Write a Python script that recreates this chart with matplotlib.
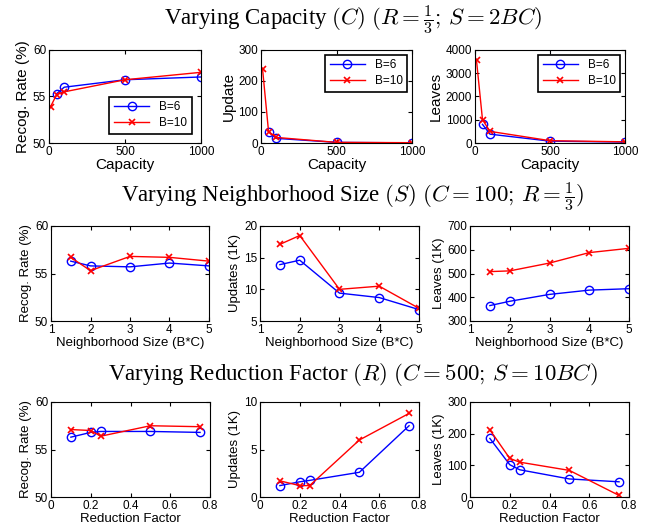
import matplotlib
matplotlib.use("Agg")
import matplotlib.pyplot as plt

plt.rcParams['font.family'] = ['Liberation Sans', 'DejaVu Sans']
plt.rcParams['mathtext.fontset'] = 'cm'

# Row 1: varying capacity
cap_x_b6 = [50, 100, 500, 1000]
cap_x_b10 = [10, 50, 100, 500, 1000]
cap_rec_b6 = [55.3, 56.0, 56.8, 57.1]
cap_rec_b10 = [53.9, 55.2, 55.5, 56.8, 57.6]
cap_upd_b6 = [37, 15, 2, 0.5]
cap_upd_b10 = [240, 37, 18, 2, 1]
cap_leav_b6 = [800, 380, 80, 40]
cap_leav_b10 = [3550, 1000, 500, 100, 50]

# Row 2: varying neighborhood size
nb_x = [1.5, 2, 3, 4, 5]
nb_rec_b6 = [56.3, 55.8, 55.7, 56.1, 55.8]
nb_rec_b10 = [56.7, 55.3, 56.8, 56.7, 56.3]
nb_upd_b6 = [13.9, 14.6, 9.4, 8.7, 6.8]
nb_upd_b10 = [17.1, 18.5, 10.0, 10.5, 7.0]
nb_leav_b6 = [365, 383, 412, 430, 436]
nb_leav_b10 = [508, 511, 544, 588, 606]

# Row 3: varying reduction factor
rf_x = [0.1, 0.2, 0.25, 0.5, 0.75]
rf_rec_b6 = [56.3, 56.8, 56.9, 56.9, 56.8]
rf_rec_b10 = [57.1, 57.0, 56.4, 57.5, 57.4]
rf_upd_b6 = [1.2, 1.6, 1.75, 2.6, 7.5]
rf_upd_b10 = [1.7, 1.2, 1.2, 6.0, 8.8]
rf_leav_b6 = [185, 102, 86, 57, 48]
rf_leav_b10 = [212, 122, 110, 84, 5]

W, H = 646, 522
fig = plt.figure(figsize=(W / 100, H / 100), dpi=100)

def add_ax(l, t, r, b):
    return fig.add_axes([l / W, 1 - b / H, (r - l) / W, (b - t) / H])

def style(ax):
    ax.tick_params(direction='in', top=True, right=True, labelsize=8.5, length=3, pad=2)
    for s in ax.spines.values():
        s.set_linewidth(0.8)

def plot_pair(ax, xb6, yb6, xb10, yb10):
    ax.plot(xb6, yb6, '-o', color='blue', mfc='none', ms=6, lw=1, label='B=6')
    ax.plot(xb10, yb10, '-x', color='red', ms=4, mew=1.2, lw=1, label='B=10')

def legend(ax, loc, pad):
    leg = ax.legend(loc=loc, fontsize=8.5, fancybox=False, edgecolor='black', framealpha=1,
                    handlelength=3, borderaxespad=pad, borderpad=0.4, labelspacing=0.3)
    leg.get_frame().set_linewidth(1.2)

# Row 1
ax = add_ax(49, 50, 201, 143)
plot_pair(ax, cap_x_b6, cap_rec_b6, cap_x_b10, cap_rec_b10)
ax.set_xlim(0, 1000); ax.set_ylim(50, 60)
ax.set_xticks([0, 500, 1000]); ax.set_yticks([50, 55, 60])
ax.set_xlabel('Capacity', fontsize=11, labelpad=0)
ax.set_ylabel('Recog. Rate (%)', fontsize=11, labelpad=2)
style(ax)
legend(ax, 'lower right', 0.8)

ax = add_ax(261, 50, 412, 143)
plot_pair(ax, cap_x_b6, cap_upd_b6, cap_x_b10, cap_upd_b10)
ax.set_xlim(0, 1000); ax.set_ylim(0, 300)
ax.set_xticks([0, 500, 1000]); ax.set_yticks([0, 100, 200, 300])
ax.set_xlabel('Capacity', fontsize=11, labelpad=0)
ax.set_ylabel('Update', fontsize=11, labelpad=2)
style(ax)
legend(ax, 'upper right', 0.4)

ax = add_ax(475, 50, 625, 143)
plot_pair(ax, cap_x_b6, cap_leav_b6, cap_x_b10, cap_leav_b10)
ax.set_xlim(0, 1000); ax.set_ylim(0, 4000)
ax.set_xticks([0, 500, 1000]); ax.set_yticks([0, 1000, 2000, 3000, 4000])
ax.set_xlabel('Capacity', fontsize=11, labelpad=0)
ax.set_ylabel('Leaves', fontsize=11, labelpad=2)
style(ax)
legend(ax, 'upper right', 0.4)

# Row 2
ax = add_ax(51, 226, 209, 321)
plot_pair(ax, nb_x, nb_rec_b6, nb_x, nb_rec_b10)
ax.set_xlim(1, 5); ax.set_ylim(50, 60)
ax.set_xticks([1, 2, 3, 4, 5]); ax.set_yticks([50, 55, 60])
ax.set_xlabel('Neighborhood Size (B*C)', fontsize=9.5, labelpad=1)
ax.set_ylabel('Recog. Rate (%)', fontsize=9.5, labelpad=2)
style(ax)

ax = add_ax(260, 226, 419, 321)
plot_pair(ax, nb_x, nb_upd_b6, nb_x, nb_upd_b10)
ax.set_xlim(1, 5); ax.set_ylim(5, 20)
ax.set_xticks([1, 2, 3, 4, 5]); ax.set_yticks([5, 10, 15, 20])
ax.set_xlabel('Neighborhood Size (B*C)', fontsize=9.5, labelpad=1)
ax.set_ylabel('Updates (1K)', fontsize=9.5, labelpad=2)
style(ax)

ax = add_ax(470, 226, 629, 321)
plot_pair(ax, nb_x, nb_leav_b6, nb_x, nb_leav_b10)
ax.set_xlim(1, 5); ax.set_ylim(300, 700)
ax.set_xticks([1, 2, 3, 4, 5]); ax.set_yticks([300, 400, 500, 600, 700])
ax.set_xlabel('Neighborhood Size (B*C)', fontsize=9.5, labelpad=1)
ax.set_ylabel('Leaves (1K)', fontsize=9.5, labelpad=2)
style(ax)

# Row 3
ax = add_ax(51, 402, 210, 497)
plot_pair(ax, rf_x, rf_rec_b6, rf_x, rf_rec_b10)
ax.set_xlim(0, 0.8); ax.set_ylim(50, 60)
ax.set_xticks([0, 0.2, 0.4, 0.6, 0.8]); ax.set_xticklabels(['0', '0.2', '0.4', '0.6', '0.8'])
ax.set_yticks([50, 55, 60])
ax.set_xlabel('Reduction Factor', fontsize=9.5, labelpad=1)
ax.set_ylabel('Recog. Rate (%)', fontsize=9.5, labelpad=2)
style(ax)

ax = add_ax(260, 402, 419, 497)
plot_pair(ax, rf_x, rf_upd_b6, rf_x, rf_upd_b10)
ax.set_xlim(0, 0.8); ax.set_ylim(0, 10)
ax.set_xticks([0, 0.2, 0.4, 0.6, 0.8]); ax.set_xticklabels(['0', '0.2', '0.4', '0.6', '0.8'])
ax.set_yticks([0, 5, 10])
ax.set_xlabel('Reduction Factor', fontsize=9.5, labelpad=1)
ax.set_ylabel('Updates (1K)', fontsize=9.5, labelpad=2)
style(ax)

ax = add_ax(470, 402, 629, 497)
plot_pair(ax, rf_x, rf_leav_b6, rf_x, rf_leav_b10)
ax.set_xlim(0, 0.8); ax.set_ylim(0, 300)
ax.set_xticks([0, 0.2, 0.4, 0.6, 0.8]); ax.set_xticklabels(['0', '0.2', '0.4', '0.6', '0.8'])
ax.set_yticks([0, 100, 200, 300])
ax.set_xlabel('Reduction Factor', fontsize=9.5, labelpad=1)
ax.set_ylabel('Leaves (1K)', fontsize=9.5, labelpad=2)
style(ax)

# Row titles
tkw = dict(ha='center', va='center', fontsize=16.5, family=['Liberation Serif', 'DejaVu Serif'])
fig.text(353 / W, 1 - 20 / H, r'Varying Capacity $(C)$ $(R=\frac{1}{3};\,S=2BC)$', **tkw)
fig.text(353 / W, 1 - 197 / H, r'Varying Neighborhood Size $(S)$ $(C=100;\,R=\frac{1}{3})$', **tkw)
fig.text(353 / W, 1 - 375 / H, r'Varying Reduction Factor $(R)$ $(C=500;\,S=10BC)$', **tkw)

fig.savefig('out.png', dpi=100)
